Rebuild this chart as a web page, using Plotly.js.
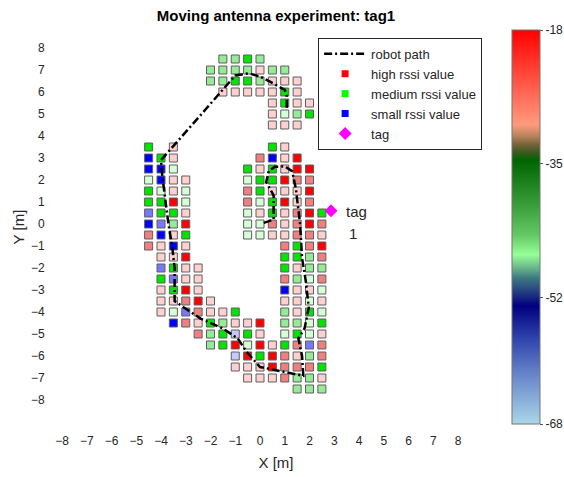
<!DOCTYPE html>
<html>
<head>
<meta charset="utf-8">
<script src="https://cdn.plot.ly/plotly-3.0.1.min.js"></script>
<style>html,body{margin:0;padding:0;background:#fff;}#chart{width:564px;height:477px;}</style>
</head>
<body>
<div id="chart"></div>
<script>
// Grid columns (x, metres) and rows (y, metres) of the RSSI cells
const colX = [-4.5, -4, -3.5, -3, -2.5, -2, -1.5, -1, -0.5, 0, 0.5, 1, 1.5, 2, 2.5];
const rowY = [7.5, 7, 6.5, 6, 5.5, 5, 4.5, 4, 3.5, 3, 2.5, 2, 1.5, 1, 0.5, 0,
              -0.5, -1, -1.5, -2, -2.5, -3, -3.5, -4, -4.5, -5, -5.5, -6, -6.5, -7, -7.5];
// RSSI level code per cell (one character per column, '.' = no measurement)
// R high, S high-mid, P mid-high, L mid-low pale, M medium light, G medium, U/V/B small
const rowLevels = [
  "......MMGM.....",
  ".....MMMMPMM...",
  ".....MMGGMPPP..",
  "......PPPPPGP..",
  "..........PGPP.",
  "..........PLMG.",
  "..........PPP..",
  "...............",
  "G.P.......GP...",
  "BGP......SBPR..",
  "BBL.....GPGPRR.",
  "LBPP....LGGRSS.",
  "GLPL....SGPPPR.",
  "GGRL....SLGRPS.",
  "VGGP....LPGPSRG",
  "BVMR....LLSPSRS",
  "SBPG....LLPPSSP",
  "SPBP.......SGSR",
  ".PPR.......GGMS",
  ".VGPP......GPMM",
  ".GVPP......SMLS",
  ".PGRP......BPPL",
  ".PPSRP.....PPLP",
  ".PLVSPPG...MPGL",
  "..BSPGMPPR.MMLG",
  "....SMGUGP.LGLP",
  ".....MGRLRPGSVS",
  ".......URGRSPMS",
  ".......PPPRSSSG",
  "........PPPSMMP",
  "............MMM"
];
const levelColor = {
  R: "rgb(255,0,0)", S: "rgb(240,128,128)", P: "rgb(255,208,208)",
  G: "rgb(0,228,0)", M: "rgb(150,235,150)", L: "rgb(215,255,215)",
  B: "rgb(0,0,255)", V: "rgb(120,120,255)", U: "rgb(200,200,255)"
};
// Robot path (metres)
const pathX = [0.15, 0.55, 0.55, 0.25, 0.35, 0.6, 1.0, 1.3, 1.45, 1.62, 1.7, 1.85, 1.97, 1.8, 1.55, 1.7, 1.75,
               0.0, -0.55, -0.9, -1.5, -2.4, -3.0, -3.45, -3.45, -3.55, -3.7, -3.85, -3.95, -4.0,
               -1.0, -0.45, 0.0, 0.4, 1.0, 1.08, 1.08];
const pathY = [0.05, 0.2, 1.3, 1.9, 2.4, 2.6, 2.62, 2.4, 1.6, 0.0, -1.55, -2.6, -3.8, -4.75, -5.2, -6.0, -6.9,
               -6.5, -5.8, -5.2, -4.75, -4.3, -3.85, -3.5, -2.0, -1.0, 0.0, 1.2, 2.2, 2.9,
               6.75, 6.85, 6.7, 6.47, 6.1, 5.8, 5.2];
// Tag position
const tagX = [2.87];
const tagY = [0.6];
const tagLabel = ["tag", "1"];
// Colorbar
const cbMin = -68, cbMax = -18;
const cbTicks = [-18, -35, -52, -68];
const cbTickText = ["-18", "-35", "-52", "-68"];
const axisTicks = [-8, -7, -6, -5, -4, -3, -2, -1, 0, 1, 2, 3, 4, 5, 6, 7, 8];

const cx = [], cy = [], cc = [];
rowLevels.forEach((row, i) => {
  for (let j = 0; j < row.length; j++) {
    const k = row[j];
    if (k !== ".") { cx.push(colX[j]); cy.push(rowY[i]); cc.push(levelColor[k]); }
  }
});

const font = "Liberation Sans, Arial, sans-serif";
const txt = "#262626";

const traces = [
  {type: "scatter", mode: "markers", x: cx, y: cy, showlegend: false, hoverinfo: "skip",
   marker: {symbol: "square", size: 8, color: cc, line: {color: "rgb(95,95,95)", width: 1}}},
  {type: "scatter", mode: "lines", x: pathX, y: pathY, name: "robot path",
   line: {color: "black", width: 2.5, dash: "8px,3px,2px,3px"}},
  {type: "scatter", mode: "markers", x: [null], y: [null], name: "high rssi value",
   marker: {symbol: "square", size: 7, color: "rgb(255,0,0)"}},
  {type: "scatter", mode: "markers", x: [null], y: [null], name: "medium rssi value",
   marker: {symbol: "square", size: 7, color: "rgb(0,255,0)"}},
  {type: "scatter", mode: "markers", x: [null], y: [null], name: "small rssi value",
   marker: {symbol: "square", size: 7, color: "rgb(0,0,255)"}},
  {type: "scatter", mode: "markers", x: tagX, y: tagY, name: "tag",
   marker: {symbol: "diamond", size: 10, color: "rgb(255,0,255)"}},
  {type: "scatter", mode: "markers", x: [null], y: [null], showlegend: false, hoverinfo: "skip",
   marker: {color: [cbMin], cmin: cbMin, cmax: cbMax, showscale: true,
     colorscale: [
       [0, "rgb(170,215,232)"], [0.13, "rgb(100,130,200)"], [0.22, "rgb(45,65,170)"],
       [0.30, "rgb(0,0,128)"], [0.34, "rgb(40,70,130)"], [0.37, "rgb(60,120,130)"],
       [0.40, "rgb(110,190,140)"], [0.43, "rgb(150,255,150)"], [0.48, "rgb(100,200,100)"],
       [0.55, "rgb(60,160,60)"], [0.67, "rgb(0,100,0)"], [0.69, "rgb(60,90,30)"],
       [0.71, "rgb(120,100,60)"], [0.73, "rgb(180,130,90)"], [0.76, "rgb(255,155,125)"],
       [1, "rgb(255,0,0)"]],
     colorbar: {x: 1.0268, xanchor: "left", xpad: 0, y: 0.5, yanchor: "middle", ypad: 0,
       len: 394, lenmode: "pixels", thickness: 28, thicknessmode: "pixels",
       outlinecolor: "#777", outlinewidth: 1, borderwidth: 0,
       tickvals: cbTicks, ticktext: cbTickText, ticks: "outside", ticklen: 3, tickcolor: "#555",
       tickfont: {family: font, size: 12, color: txt}}}}
];

const layout = {
  width: 564, height: 477,
  margin: {l: 52, r: 64, t: 30, b: 53, pad: 0, autoexpand: false},
  paper_bgcolor: "white", plot_bgcolor: "white",
  font: {family: font, color: txt},
  title: {text: "<b>Moving antenna experiment: tag1</b>", font: {family: font, size: 15, color: "black"},
          x: 0.5, xref: "paper", y: 0.968, yref: "container", yanchor: "middle"},
  showlegend: true,
  legend: {x: 0.594, xanchor: "left", y: 0.98, yanchor: "top", bgcolor: "white",
           bordercolor: "#262626", borderwidth: 1, font: {family: font, size: 13, color: txt},
           itemwidth: 42, tracegroupgap: 0},
  xaxis: {range: [-8.404, 9.697], tickvals: axisTicks, showgrid: false, zeroline: false, showline: false,
          automargin: false,
          ticks: "outside", ticklen: 6, tickcolor: "rgba(0,0,0,0)", tickfont: {size: 12, color: txt},
          title: {text: "X [m]", font: {size: 15, color: txt}, standoff: 10}},
  yaxis: {range: [-9.091, 8.818], tickvals: axisTicks, showgrid: false, zeroline: false, showline: false,
          automargin: false,
          ticks: "outside", ticklen: 4, tickcolor: "rgba(0,0,0,0)", tickfont: {size: 12, color: txt},
          title: {text: "Y [m]", font: {size: 15, color: txt}, standoff: 2}},
  annotations: [
    {x: 3.4, y: 0.55, xref: "x", yref: "y", text: tagLabel[0], showarrow: false, xanchor: "left",
     yanchor: "middle", font: {size: 15, color: txt}},
    {x: 3.5, y: -0.45, xref: "x", yref: "y", text: tagLabel[1], showarrow: false, xanchor: "left",
     yanchor: "middle", font: {size: 15, color: txt}}
  ]
};

Plotly.newPlot("chart", traces, layout, {staticPlot: true, displayModeBar: false});
</script>
</body>
</html>
